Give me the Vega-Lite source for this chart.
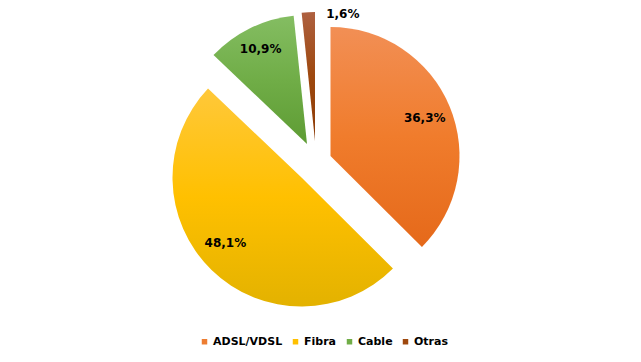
{
  "$schema": "https://vega.github.io/schema/vega-lite/v6.json",
  "width": 628,
  "height": 322,
  "padding": 0,
  "background": "white",
  "config": {"view": {"stroke": null}},
  "data": {"values": [
    {"cat": "ADSL/VDSL", "value": 36.3, "label": "36,3%", "o": 1},
    {"cat": "Fibra", "value": 48.1, "label": "48,1%", "o": 2},
    {"cat": "Cable", "value": 10.9, "label": "10,9%", "o": 3},
    {"cat": "Otras", "value": 1.6, "label": "1,6%", "o": 4}
  ]},
  "encoding": {
    "theta": {"field": "value", "type": "quantitative", "stack": true},
    "order": {"field": "o", "type": "quantitative"},
    "detail": {"field": "cat", "type": "nominal"}
  },
  "layer": [
    {
      "mark": {"type": "arc", "radius": 129, "xOffset": 16.5, "yOffset": -5,
        "fill": {"gradient": "linear", "x1": 0, "y1": 0, "x2": 0, "y2": 1,
          "stops": [{"offset": 0, "color": "#F28F55"}, {"offset": 0.5, "color": "#F07C2C"}, {"offset": 1, "color": "#E5691A"}]}},
      "encoding": {"fillOpacity": {"condition": {"test": "datum.cat === 'ADSL/VDSL'", "value": 1}, "value": 0}}
    },
    {
      "mark": {"type": "arc", "radius": 129, "xOffset": -12.5, "yOffset": 16.5,
        "fill": {"gradient": "linear", "x1": 0, "y1": 0, "x2": 0, "y2": 1,
          "stops": [{"offset": 0, "color": "#FFC83A"}, {"offset": 0.5, "color": "#FFC000"}, {"offset": 1, "color": "#E3B200"}]}},
      "encoding": {"fillOpacity": {"condition": {"test": "datum.cat === 'Fibra'", "value": 1}, "value": 0}}
    },
    {
      "mark": {"type": "arc", "radius": 129, "xOffset": -7, "yOffset": -17,
        "fill": {"gradient": "linear", "x1": 0, "y1": 0, "x2": 0, "y2": 1,
          "stops": [{"offset": 0, "color": "#84BD62"}, {"offset": 0.5, "color": "#70AD47"}, {"offset": 1, "color": "#5E9C34"}]}},
      "encoding": {"fillOpacity": {"condition": {"test": "datum.cat === 'Cable'", "value": 1}, "value": 0}}
    },
    {
      "mark": {"type": "arc", "radius": 129, "xOffset": 1, "yOffset": -20,
        "fill": {"gradient": "linear", "x1": 0, "y1": 0, "x2": 0, "y2": 1,
          "stops": [{"offset": 0, "color": "#AE6040"}, {"offset": 0.5, "color": "#9E480E"}, {"offset": 1, "color": "#8C3C08"}]}},
      "encoding": {"fillOpacity": {"condition": {"test": "datum.cat === 'Otras'", "value": 1}, "value": 0}}
    },
    {
      "mark": {"type": "text", "radius": 102, "xOffset": 16.5, "yOffset": -4, "font": "DejaVu Sans", "fontWeight": "bold", "fontSize": 12, "fill": "#000000"},
      "encoding": {"text": {"field": "label"}, "opacity": {"condition": {"test": "datum.cat === 'ADSL/VDSL'", "value": 1}, "value": 0}}
    },
    {
      "mark": {"type": "text", "radius": 102, "xOffset": -12.5, "yOffset": 16.5, "dx": -5, "dy": -8, "font": "DejaVu Sans", "fontWeight": "bold", "fontSize": 12, "fill": "#000000"},
      "encoding": {"text": {"field": "label"}, "opacity": {"condition": {"test": "datum.cat === 'Fibra'", "value": 1}, "value": 0}}
    },
    {
      "mark": {"type": "text", "radius": 105, "xOffset": -7, "yOffset": -18, "font": "DejaVu Sans", "fontWeight": "bold", "fontSize": 12, "fill": "#000000"},
      "encoding": {"text": {"field": "label"}, "opacity": {"condition": {"test": "datum.cat === 'Cable'", "value": 1}, "value": 0}}
    },
    {
      "mark": {"type": "text", "radius": 131, "xOffset": 1, "yOffset": -21, "dx": 18, "dy": 5, "align": "left", "font": "DejaVu Sans", "fontWeight": "bold", "fontSize": 12, "fill": "#000000"},
      "encoding": {"text": {"field": "label"}, "opacity": {"condition": {"test": "datum.cat === 'Otras'", "value": 1}, "value": 0}}
    },
    {
      "mark": {"type": "arc", "radius": 0},
      "encoding": {
        "color": {"field": "cat", "type": "nominal", "sort": ["ADSL/VDSL", "Fibra", "Cable", "Otras"],
          "scale": {"domain": ["ADSL/VDSL", "Fibra", "Cable", "Otras"], "range": ["#ED7D31", "#FFC000", "#70AD47", "#9E480E"]},
          "legend": {"title": null, "orient": "none", "legendX": 199, "legendY": 336, "direction": "horizontal",
            "symbolType": "square", "symbolSize": 30, "symbolStrokeWidth": 0, "labelFont": "DejaVu Sans", "labelFontWeight": "bold",
            "labelFontSize": 11, "labelColor": "#000000", "labelOffset": 3, "columnPadding": 7}}
      }
    }
  ]
}
